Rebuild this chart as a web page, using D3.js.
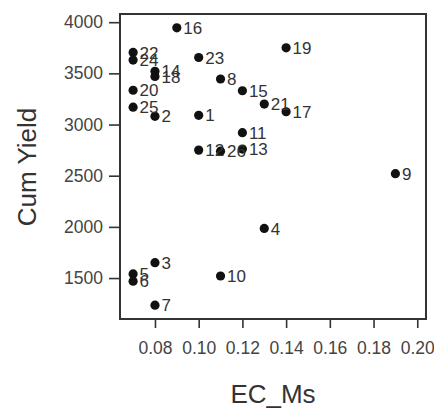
<!DOCTYPE html>
<html>
<head>
<meta charset="utf-8">
<script src="https://cdn.jsdelivr.net/npm/d3@7"></script>
<style>
  html, body { margin: 0; padding: 0; background: #fff; }
  svg { display: block; }
  text { font-family: "Liberation Sans", Arial, sans-serif; }
</style>
</head>
<body>
<svg id="chart" width="434" height="415"></svg>
<script>
// Plot labels, EC_Ms values and cumulative yield per sample
const labels = ["1","2","3","4","5","6","7","8","9","10","11","12","13","14","15","16","17","18","19","20","21","22","23","24","25","26"];
const ecMs = [0.10,0.08,0.08,0.13,0.07,0.07,0.08,0.11,0.19,0.11,0.12,0.10,0.12,0.08,0.12,0.09,0.14,0.08,0.14,0.07,0.13,0.07,0.10,0.07,0.07,0.11];
const cumYield = [3090,3080,1650,1985,1540,1470,1235,3445,2520,1520,2920,2750,2760,3520,3330,3945,3125,3470,3750,3335,3200,3705,3655,3630,3170,2740];
const xTicks = [0.08,0.10,0.12,0.14,0.16,0.18,0.20];
const yTicks = [1500,2000,2500,3000,3500,4000];

const svg = d3.select("#chart");
const box = { left: 120, right: 426, top: 14, bottom: 319 };

const x = d3.scaleLinear().domain([0.064, 0.204]).range([box.left, box.right]);
const y = d3.scaleLinear().domain([1100, 4080]).range([box.bottom, box.top]);

// bottom axis
const xAxis = svg.append("g")
  .attr("transform", `translate(0,${box.bottom})`)
  .call(d3.axisBottom(x).tickValues(xTicks).tickFormat(d3.format(".2f")).tickSize(9).tickPadding(14));
// left axis
const yAxis = svg.append("g")
  .attr("transform", `translate(${box.left},0)`)
  .call(d3.axisLeft(y).tickValues(yTicks).tickFormat(d3.format("d")).tickSize(11).tickPadding(6));

[xAxis, yAxis].forEach(g => {
  g.select(".domain").remove();
  g.selectAll(".tick line").attr("stroke", "#333").attr("stroke-width", 1.6);
  g.selectAll(".tick text").attr("fill", "#444").style("font-size", "17.5px");
});

// plot frame
svg.append("rect")
  .attr("x", box.left).attr("y", box.top)
  .attr("width", box.right - box.left).attr("height", box.bottom - box.top)
  .attr("fill", "none").attr("stroke", "#333").attr("stroke-width", 2);

// points
const pts = labels.map((l, i) => ({ label: l, ec: ecMs[i], yld: cumYield[i] }));
svg.append("g").selectAll("circle").data(pts).join("circle")
  .attr("cx", d => x(d.ec)).attr("cy", d => y(d.yld))
  .attr("r", 4.6).attr("fill", "#111");

// point labels
svg.append("g").selectAll("text").data(pts).join("text")
  .attr("x", d => x(d.ec) + 6.5).attr("y", d => y(d.yld))
  .attr("dy", "0.36em")
  .attr("fill", "#333").style("font-size", "17px")
  .text(d => d.label);

// axis titles
svg.append("text")
  .attr("x", (box.left + box.right) / 2).attr("y", 403)
  .attr("text-anchor", "middle").attr("fill", "#333")
  .style("font-size", "26px").text("EC_Ms");

svg.append("text")
  .attr("transform", `translate(36,167) rotate(-90)`)
  .attr("text-anchor", "middle").attr("fill", "#333")
  .style("font-size", "26px").text("Cum Yield");
</script>
</body>
</html>
